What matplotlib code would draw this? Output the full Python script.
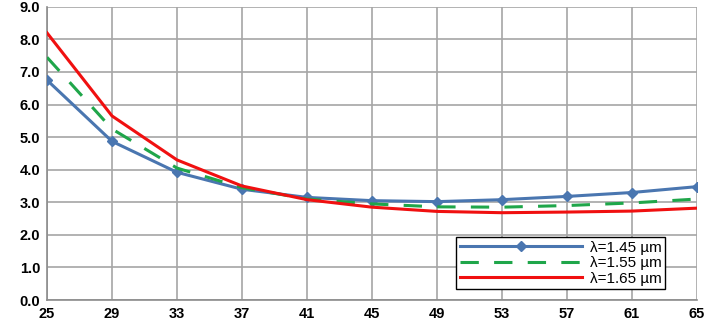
import numpy as np
import matplotlib.pyplot as plt

plt.rcParams['font.family'] = ['Liberation Sans', 'DejaVu Sans']

x_vals = [25, 29, 33, 37, 41, 45, 49, 53, 57, 61, 65]
y_145 = [6.75, 4.87, 3.92, 3.40, 3.15, 3.05, 3.02, 3.08, 3.18, 3.30, 3.48]
y_155 = [7.45, 5.25, 4.05, 3.45, 3.10, 2.95, 2.86, 2.85, 2.90, 2.98, 3.10]
y_165 = [8.20, 5.65, 4.30, 3.50, 3.08, 2.85, 2.72, 2.68, 2.70, 2.73, 2.82]
labels = ['λ=1.45 µm', 'λ=1.55 µm', 'λ=1.65 µm']


def make_plot():
    fig = plt.figure(figsize=(7.06, 3.24), dpi=100)
    ax = fig.add_axes([0.0666, 0.074, 0.9206, 0.905])

    ax.plot(x_vals, y_145, color='#4a76b0', lw=2.2, marker='D', ms=5.5,
            label=labels[0], zorder=3)
    ax.plot(x_vals, y_155, color='#1fa64a', lw=2.2, ls=(0, (6, 5)),
            label=labels[1], zorder=3)
    ax.plot(x_vals, y_165, color='#f01010', lw=2.2, label=labels[2], zorder=3)

    ax.set_xlim(25, 65)
    ax.set_ylim(0, 9)
    ax.set_xticks(x_vals)
    ax.set_yticks(np.arange(0, 9.1, 1.0))
    ax.set_yticklabels([f'{v:.1f}' for v in np.arange(0, 9.1, 1.0)])
    ax.grid(True, color='#a6a6a6', lw=1.2)
    ax.set_axisbelow(True)
    for side in ['top', 'right']:
        ax.spines[side].set_visible(False)
    for side in ['left', 'bottom']:
        ax.spines[side].set_color('#8c8c8c')
        ax.spines[side].set_linewidth(1.2)
    ax.tick_params(length=0, labelsize=10.5, pad=5)
    for t in ax.get_xticklabels() + ax.get_yticklabels():
        t.set_fontweight('bold')

    leg = ax.legend(loc='lower right', bbox_to_anchor=(0.963, 0.01),
                    fontsize=11, fancybox=False, framealpha=1,
                    edgecolor='black', handlelength=8, borderpad=0.25,
                    labelspacing=0.1, handletextpad=0.5)
    leg.get_frame().set_linewidth(1.0)

    fig.savefig('out.png', dpi=100)


if __name__ == "__main__":
    make_plot()
